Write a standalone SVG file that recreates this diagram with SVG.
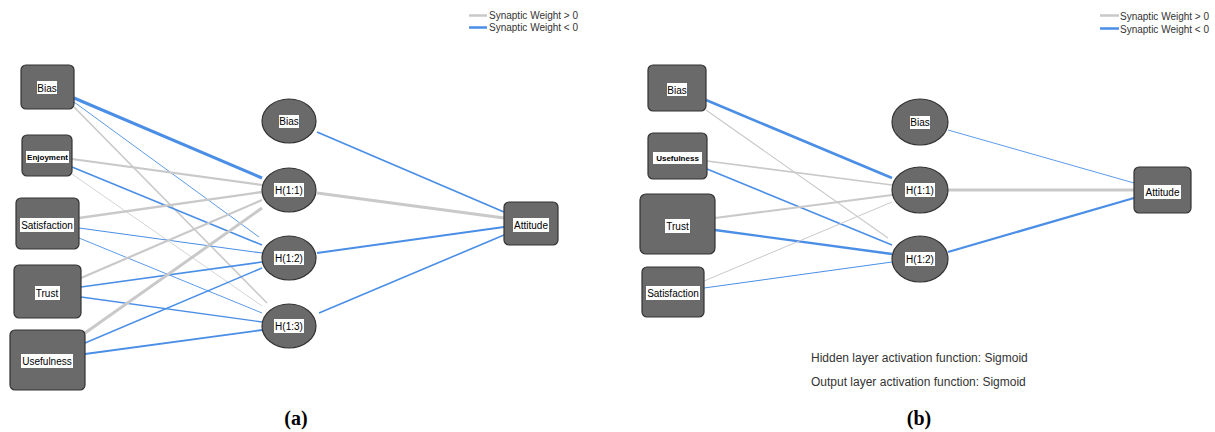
<svg xmlns="http://www.w3.org/2000/svg" width="1215" height="432" viewBox="0 0 1215 432">
  <style>
    .node { fill: #6a6a6a; stroke: #333333; stroke-width: 1.2; }
    .tag { fill: #ffffff; }
    .lbl { font-family: "Liberation Sans", Arial, sans-serif; font-size: 10px; fill: #000; text-anchor: middle; dominant-baseline: central; }
    .small { font-size: 8px; font-weight: bold; }
    .pos { stroke: #c9c9c9; fill: none; stroke-linecap: butt; }
    .neg { stroke: #4a8ee6; fill: none; stroke-linecap: butt; }
    .legend { font-family: "Liberation Sans", Arial, sans-serif; font-size: 10px; fill: #333; }
    .note { font-family: "Liberation Sans", Arial, sans-serif; font-size: 12px; fill: #333; }
    .cap { font-family: "Liberation Serif", "Times New Roman", serif; font-size: 20px; font-weight: bold; fill: #000; text-anchor: middle; }
  </style>

  <!-- Panel (a): connectors -->
  <g id="connectors-a">
    <line class="neg" x1="74" y1="98" x2="262" y2="178" stroke-width="3"/>
    <line class="neg" x1="74" y1="102" x2="259" y2="237" stroke-width="0.9"/>
    <line class="pos" x1="74" y1="107" x2="267" y2="303" stroke-width="1.6"/>
    <line class="pos" x1="72" y1="159" x2="262" y2="185" stroke-width="2.2"/>
    <line class="neg" x1="72" y1="167" x2="262" y2="245" stroke-width="1.6"/>
    <line class="pos" x1="72" y1="174" x2="262" y2="306" stroke-width="0.8" stroke="#dddddd"/>
    <line class="pos" x1="79" y1="218" x2="262" y2="192" stroke-width="2.4"/>
    <line class="neg" x1="79" y1="228" x2="262" y2="253" stroke-width="1.1"/>
    <line class="neg" x1="79" y1="238" x2="262" y2="313" stroke-width="0.9"/>
    <line class="pos" x1="81" y1="278" x2="262" y2="200" stroke-width="2.2"/>
    <line class="neg" x1="81" y1="287" x2="262" y2="262" stroke-width="1.6"/>
    <line class="neg" x1="81" y1="297" x2="262" y2="322" stroke-width="1.3"/>
    <line class="pos" x1="85" y1="333" x2="262" y2="208" stroke-width="3"/>
    <line class="neg" x1="85" y1="343" x2="262" y2="268" stroke-width="1.5"/>
    <line class="neg" x1="85" y1="354" x2="262" y2="330" stroke-width="1.8"/>
    <line class="neg" x1="317" y1="132" x2="504" y2="212" stroke-width="1.8"/>
    <line class="pos" x1="317" y1="193" x2="504" y2="218" stroke-width="3"/>
    <line class="neg" x1="317" y1="253" x2="504" y2="227" stroke-width="1.8"/>
    <line class="neg" x1="319" y1="313" x2="504" y2="235" stroke-width="1.6"/>
  </g>

  <!-- Panel (a): input layer -->
  <g id="a-in-bias">
    <rect class="node" x="21" y="65" width="53" height="44" rx="5"/>
    <rect class="tag" x="37" y="81" width="20" height="13"/>
    <text class="lbl" x="47" y="88">Bias</text>
  </g>
  <g id="a-in-enjoyment">
    <rect class="node" x="22" y="135" width="50" height="41" rx="5"/>
    <rect class="tag" x="26" y="151" width="43" height="12"/>
    <text class="lbl small" x="47.5" y="157">Enjoyment</text>
  </g>
  <g id="a-in-satisfaction">
    <rect class="node" x="16" y="198" width="63" height="51" rx="5"/>
    <rect class="tag" x="20" y="218" width="54" height="14"/>
    <text class="lbl" x="47" y="225">Satisfaction</text>
  </g>
  <g id="a-in-trust">
    <rect class="node" x="14" y="265" width="67" height="53" rx="5"/>
    <rect class="tag" x="35" y="286" width="25" height="14"/>
    <text class="lbl" x="47" y="293">Trust</text>
  </g>
  <g id="a-in-usefulness">
    <rect class="node" x="10" y="330" width="75" height="60" rx="5"/>
    <rect class="tag" x="21" y="354" width="52" height="14"/>
    <text class="lbl" x="47" y="361">Usefulness</text>
  </g>

  <!-- Panel (a): hidden layer -->
  <g id="a-hid-bias">
    <ellipse class="node" cx="289" cy="121" rx="27" ry="22"/>
    <rect class="tag" x="279" y="115" width="20" height="13"/>
    <text class="lbl" x="289" y="121.5">Bias</text>
  </g>
  <g id="a-h11">
    <ellipse class="node" cx="289" cy="190" rx="27" ry="22"/>
    <rect class="tag" x="274" y="183" width="30" height="14"/>
    <text class="lbl" x="289" y="190">H(1:1)</text>
  </g>
  <g id="a-h12">
    <ellipse class="node" cx="289" cy="258" rx="27" ry="22"/>
    <rect class="tag" x="274" y="251" width="30" height="14"/>
    <text class="lbl" x="289" y="258">H(1:2)</text>
  </g>
  <g id="a-h13">
    <ellipse class="node" cx="289" cy="326" rx="27" ry="22"/>
    <rect class="tag" x="274" y="319" width="30" height="14"/>
    <text class="lbl" x="289" y="326">H(1:3)</text>
  </g>

  <!-- Panel (a): output layer -->
  <g id="a-out-attitude">
    <rect class="node" x="504" y="202" width="54" height="43" rx="5"/>
    <rect class="tag" x="513" y="218" width="36" height="14"/>
    <text class="lbl" x="531" y="225">Attitude</text>
  </g>

  <!-- Panel (a): legend -->
  <g id="a-legend">
    <line x1="469" y1="15.5" x2="487" y2="15.5" stroke="#c9c9c9" stroke-width="2.5"/>
    <text class="legend" x="489" y="19">Synaptic Weight &gt; 0</text>
    <line x1="469" y1="27.5" x2="487" y2="27.5" stroke="#4a8ee6" stroke-width="2.5"/>
    <text class="legend" x="489" y="31">Synaptic Weight &lt; 0</text>
  </g>

  <text class="cap" x="296" y="425">(a)</text>

  <!-- Panel (b): connectors -->
  <g id="connectors-b">
    <line class="neg" x1="706" y1="100" x2="892" y2="178" stroke-width="2.6"/>
    <line class="pos" x1="706" y1="110" x2="888" y2="238" stroke-width="1.1"/>
    <line class="pos" x1="707" y1="161" x2="892" y2="185" stroke-width="1.6"/>
    <line class="neg" x1="707" y1="169" x2="892" y2="245" stroke-width="1.6"/>
    <line class="pos" x1="715" y1="218" x2="892" y2="195" stroke-width="2"/>
    <line class="neg" x1="715" y1="230" x2="892" y2="254" stroke-width="2.4"/>
    <line class="pos" x1="704" y1="281" x2="892" y2="202" stroke-width="1"/>
    <line class="neg" x1="704" y1="288" x2="892" y2="262" stroke-width="1"/>
    <line class="neg" x1="948" y1="130" x2="1134" y2="183" stroke-width="0.9"/>
    <line class="pos" x1="948" y1="190" x2="1134" y2="190" stroke-width="3"/>
    <line class="neg" x1="948" y1="252" x2="1134" y2="198" stroke-width="2.2"/>
  </g>

  <!-- Panel (b): input layer -->
  <g id="b-in-bias">
    <rect class="node" x="648" y="65" width="58" height="46" rx="5"/>
    <rect class="tag" x="667" y="83" width="20" height="13"/>
    <text class="lbl" x="677" y="90">Bias</text>
  </g>
  <g id="b-in-usefulness">
    <rect class="node" x="648" y="133" width="59" height="46" rx="5"/>
    <rect class="tag" x="653" y="152" width="49" height="12"/>
    <text class="lbl small" x="677.5" y="158">Usefulness</text>
  </g>
  <g id="b-in-trust">
    <rect class="node" x="640" y="194" width="75" height="60" rx="6"/>
    <rect class="tag" x="665" y="219" width="25" height="14"/>
    <text class="lbl" x="677.5" y="226">Trust</text>
  </g>
  <g id="b-in-satisfaction">
    <rect class="node" x="642" y="267" width="62" height="50" rx="5"/>
    <rect class="tag" x="646" y="286" width="54" height="14"/>
    <text class="lbl" x="673" y="293">Satisfaction</text>
  </g>

  <!-- Panel (b): hidden layer -->
  <g id="b-hid-bias">
    <ellipse class="node" cx="920" cy="122" rx="28" ry="23"/>
    <rect class="tag" x="910" y="116" width="20" height="13"/>
    <text class="lbl" x="920" y="122.5">Bias</text>
  </g>
  <g id="b-h11">
    <ellipse class="node" cx="920" cy="190" rx="28" ry="23"/>
    <rect class="tag" x="905" y="183" width="30" height="14"/>
    <text class="lbl" x="920" y="190">H(1:1)</text>
  </g>
  <g id="b-h12">
    <ellipse class="node" cx="920" cy="259" rx="28" ry="23"/>
    <rect class="tag" x="905" y="252" width="30" height="14"/>
    <text class="lbl" x="920" y="259">H(1:2)</text>
  </g>

  <!-- Panel (b): output layer -->
  <g id="b-out-attitude">
    <rect class="node" x="1134" y="167" width="57" height="46" rx="5"/>
    <rect class="tag" x="1144" y="185" width="37" height="14"/>
    <text class="lbl" x="1162.5" y="192">Attitude</text>
  </g>

  <!-- Panel (b): legend -->
  <g id="b-legend">
    <line x1="1100" y1="15.5" x2="1119" y2="15.5" stroke="#c9c9c9" stroke-width="2.5"/>
    <text class="legend" x="1120" y="19.5">Synaptic Weight &gt; 0</text>
    <line x1="1100" y1="28.5" x2="1119" y2="28.5" stroke="#4a8ee6" stroke-width="2.5"/>
    <text class="legend" x="1120" y="32.5">Synaptic Weight &lt; 0</text>
  </g>

  <!-- Panel (b): activation notes -->
  <g id="b-notes">
    <text class="note" x="811" y="362">Hidden layer activation function: Sigmoid</text>
    <text class="note" x="811" y="386">Output layer activation function: Sigmoid</text>
  </g>

  <text class="cap" x="919" y="425">(b)</text>
</svg>
